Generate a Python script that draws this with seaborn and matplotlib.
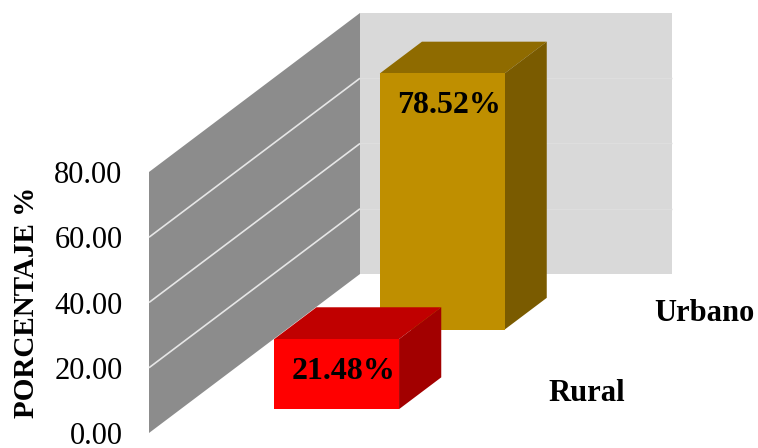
import numpy as np
import pandas as pd
import matplotlib
matplotlib.use("Agg")
import matplotlib.pyplot as plt
from matplotlib.patches import Polygon
import seaborn as sns

# Data: share of population by area (%)
zonas = ["Rural", "Urbano"]
porcentajes = [21.48, 78.52]
etiquetas = ["21.48%", "78.52%"]
ticks_y = [0, 20, 40, 60, 80]

# Face colours of each box: front, top, side
col_frente = ["#FF0000", "#BF8F00"]
col_tapa = ["#C00000", "#8F6B00"]
col_lado = ["#A20000", "#7A5B00"]

sns.set_theme(style="white")
plt.rcParams["font.family"] = ["Liberation Serif", "DejaVu Serif"]

W, H = 758, 448
fig = plt.figure(figsize=(W / 100, H / 100), dpi=100)
# front plane of the plot box (pixels): left 149, right 461, bottom 433, top 172
ax = fig.add_axes([149 / W, (H - 433) / H, 312 / W, 261 / H])

df = pd.DataFrame({"cat": [""] * len(zonas), "zona": zonas, "valor": porcentajes})
sns.barplot(data=df, x="cat", y="valor", hue="zona", hue_order=zonas,
            palette=col_frente, dodge=False, width=0.4, saturation=1,
            legend=False, linewidth=0, ax=ax)

ax.set_xlim(-0.5, 0.5)
ax.set_ylim(0, 80)

# oblique depth axis: full depth displacement expressed in data units
DX = 211 / 312          # lateral units per full depth
DY = 159 / (261 / 80)   # value units per full depth


def proj(x, y, t):
    return (x + t * DX, y + t * DY)


def poly(pts, color, z):
    ax.add_patch(Polygon([proj(*p) for p in pts], closed=True, facecolor=color,
                         edgecolor="none", zorder=z, clip_on=False))


x0, x1 = ax.get_xlim()
y0, y1 = ax.get_ylim()

# back wall and left wall
poly([(x0, y0, 1), (x1, y0, 1), (x1, y1, 1), (x0, y1, 1)], "#D9D9D9", 0.5)
poly([(x0, y0, 0), (x0, y0, 1), (x0, y1, 1), (x0, y1, 0)], "#8C8C8C", 0.6)

for v in ticks_y[1:-1]:
    a, b = proj(x0, v, 0), proj(x0, v, 1)
    ax.plot([a[0], b[0]], [a[1], b[1]], color="#E6E6E6", lw=1.2, zorder=0.7,
            clip_on=False, solid_capstyle="butt")
    c = proj(x1, v, 1)
    ax.plot([b[0], c[0]], [b[1], c[1]], color="#DEDEDE", lw=1.0, zorder=0.55,
            clip_on=False, solid_capstyle="butt")

# depth slots: one series per slot, box depth 0.2 of the full depth
n = len(zonas)
slot = 1 / n
centros = [(i + 0.5) * slot for i in range(n)]
prof = 0.4 * slot

bars = list(ax.patches)
for i, (bar, v) in enumerate(zip(bars, porcentajes)):
    t0 = centros[i] - prof / 2
    t1 = centros[i] + prof / 2
    bx0 = bar.get_x()
    bx1 = bx0 + bar.get_width()
    h = bar.get_height()
    z = 10 - 2 * i  # nearer boxes drawn on top
    # front face
    fx, fy = proj(bx0, 0, t0)
    bar.set_xy((fx, fy))
    bar.set_zorder(z + 0.5)
    bar.set_clip_on(False)
    # top and side faces
    poly([(bx0, h, t0), (bx1, h, t0), (bx1, h, t1), (bx0, h, t1)], col_tapa[i], z)
    poly([(bx1, 0, t0), (bx1, 0, t1), (bx1, h, t1), (bx1, h, t0)], col_lado[i], z)
    # value label on the front face
    cx, cy = proj((bx0 + bx1) / 2, h, t0)
    ax.annotate(etiquetas[i], xy=(cx, cy), xytext=(5, -23), textcoords="offset points",
                ha="center", va="center", fontsize=23, fontweight="bold",
                color="#000000", zorder=z + 1, annotation_clip=False)
    # depth-axis label
    lx, ly = proj(x1, 0, centros[i])
    ax.annotate(zonas[i], xy=(lx, ly), xytext=(25, 0), textcoords="offset points",
                ha="left", va="center", fontsize=22, fontweight="bold",
                color="#000000", annotation_clip=False)

for s in ax.spines.values():
    s.set_visible(False)
ax.set_facecolor("none")
ax.set_xticks([])
ax.set_xlabel("")
ax.set_yticks(ticks_y)
ax.set_yticklabels([f"{t:.2f}" for t in ticks_y])
ax.tick_params(axis="y", length=0, pad=19, labelsize=22, labelcolor="#000000")
ax.set_ylabel("PORCENTAJE %", fontsize=21, fontweight="bold", color="#000000",
              labelpad=10)

fig.savefig("out.png", dpi=100)
